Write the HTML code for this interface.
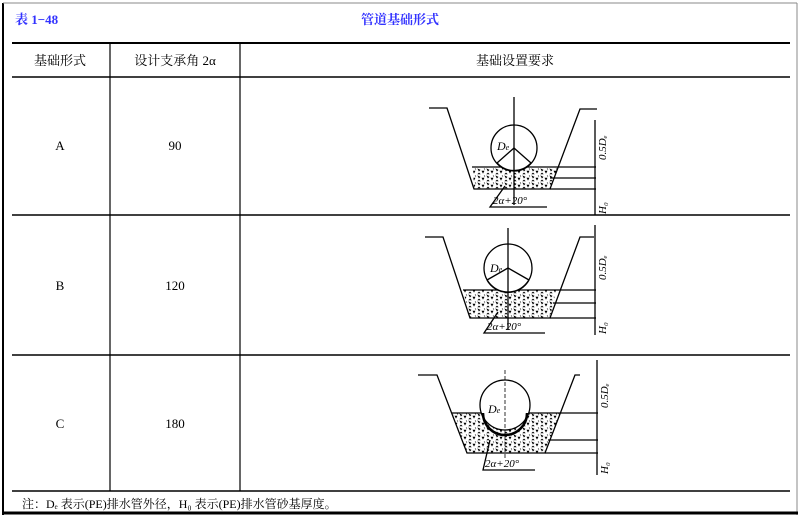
<!DOCTYPE html>
<html><head><meta charset="utf-8"><style>
body{margin:0;width:800px;height:520px;background:#fff;overflow:hidden;font-family:"Liberation Serif","Noto Serif CJK SC",serif;}
svg{position:absolute;left:0;top:0}
</style></head><body>
<svg width="800" height="520" viewBox="0 0 800 520">
<defs>
<pattern id="g" width="9" height="7" patternUnits="userSpaceOnUse">
<rect width="9" height="7" fill="#fff"/>
<path d="M1 1l2 1-1 1z M5 3l2 0-1 2z M2 5l1 1-2 0z M7 0.5l1 1" fill="#000" stroke="#000" stroke-width="0.6"/>
</pattern>
</defs>
<g stroke="#000" fill="none">
<line x1="3" y1="3" x2="3" y2="515" stroke-width="2"/>
<line x1="3" y1="3" x2="797" y2="3" stroke="#888" stroke-width="1"/>
<line x1="797" y1="3" x2="797" y2="515" stroke="#888" stroke-width="1"/>
<line x1="2" y1="513" x2="798" y2="513" stroke-width="3"/>
<line x1="12" y1="43" x2="790" y2="43" stroke-width="2"/>
<line x1="12" y1="77" x2="790" y2="77" stroke-width="1.5"/>
<line x1="12" y1="215" x2="790" y2="215" stroke-width="1.5"/>
<line x1="12" y1="355" x2="790" y2="355" stroke-width="1.5"/>
<line x1="12" y1="491" x2="790" y2="491" stroke-width="1.5"/>
<line x1="110" y1="43" x2="110" y2="491" stroke-width="1.2"/>
<line x1="240" y1="43" x2="240" y2="491" stroke-width="1.2"/>
</g>
<g font-size="13" fill="#33f" font-weight="bold">
<text x="15" y="24">表 1−48</text>
<text x="400" y="24" text-anchor="middle">管道基础形式</text>
</g>
<g font-size="13" fill="#000" text-anchor="middle">
<text x="60" y="65">基础形式</text>
<text x="175" y="65">设计支承角 2α</text>
<text x="515" y="65">基础设置要求</text>
<text x="60" y="150">A</text><text x="175" y="150">90</text>
<text x="60" y="290">B</text><text x="175" y="290">120</text>
<text x="60" y="428">C</text><text x="175" y="428">180</text>
</g>
<text x="22" y="508" font-size="12" fill="#000">注：Dₑ 表示(PE)排水管外径，H₀ 表示(PE)排水管砂基厚度。</text>

<!-- A -->
<g stroke="#000" stroke-width="1.3" fill="none">
<polygon points="473,167 558,167 550,189 474,189" fill="url(#g)" stroke="none"/>
<polyline points="429,108 447,108 474,189 550,189 580,109 597,109"/>
<line x1="472" y1="167" x2="596" y2="167"/>
<circle cx="514" cy="148" r="23" fill="#fff"/>
<path d="M497,163 A23,23 0 0 0 531,163" />
<line x1="514" y1="148" x2="497" y2="163"/><line x1="514" y1="148" x2="531" y2="163"/>
<line x1="514" y1="97" x2="514" y2="205"/>
<line x1="595" y1="120" x2="595" y2="215"/>
<line x1="550" y1="178" x2="596" y2="178"/><line x1="550" y1="189" x2="596" y2="189"/>
<polyline points="505,186 490,207 547,207"/>
</g>
<text x="497" y="150" font-size="12" font-style="italic">D<tspan font-size="8">e</tspan></text>
<text x="493" y="204" font-size="11" font-style="italic">2α+20°</text>
<text transform="translate(606,160) rotate(-90)" font-size="11" font-style="italic">0.5Dₑ</text>
<text transform="translate(606,214) rotate(-90)" font-size="11" font-style="italic">H₀</text>

<!-- B -->
<g stroke="#000" stroke-width="1.3" fill="none">
<polygon points="463,290 556,290 550,318 470,318" fill="url(#g)" stroke="none"/>
<polyline points="425,237 443,237 470,318 550,318 580,237 594,237"/>
<line x1="463" y1="290" x2="596" y2="290"/>
<circle cx="508" cy="268" r="24" fill="#fff"/>
<path d="M487,280 A24,24 0 0 0 529,280"/>
<line x1="508" y1="268" x2="487" y2="280"/><line x1="508" y1="268" x2="529" y2="280"/>
<line x1="508" y1="228" x2="508" y2="330"/>
<line x1="595" y1="225" x2="595" y2="335"/>
<line x1="553" y1="303" x2="596" y2="303"/><line x1="550" y1="318" x2="596" y2="318"/>
<polyline points="498,312 484,333 545,333"/>
</g>
<text x="490" y="272" font-size="12" font-style="italic">D<tspan font-size="8">e</tspan></text>
<text x="487" y="330" font-size="11" font-style="italic">2α+20°</text>
<text transform="translate(606,280) rotate(-90)" font-size="11" font-style="italic">0.5Dₑ</text>
<text transform="translate(606,334) rotate(-90)" font-size="11" font-style="italic">H₀</text>

<!-- C -->
<g stroke="#000" stroke-width="1.3" fill="none">
<polygon points="452,413 560,413 545,453 467,453" fill="url(#g)" stroke="none"/>
<polyline points="418,375 437,375 467,453 545,453 575,375 580,375"/>
<line x1="452" y1="413" x2="598" y2="413"/>
<circle cx="505" cy="405" r="25" fill="#fff"/>
<path d="M483,413 A22,22 0 0 0 527,413" stroke-width="2.5"/>
<line x1="505" y1="370" x2="505" y2="460" stroke-dasharray="4 2" stroke-width="0.8"/>
<line x1="597" y1="360" x2="597" y2="475"/>
<line x1="548" y1="440" x2="598" y2="440"/><line x1="545" y1="453" x2="598" y2="453"/>
<polyline points="490,440 483,470 535,470"/>
</g>
<text x="488" y="413" font-size="12" font-style="italic">D<tspan font-size="8">e</tspan></text>
<text x="485" y="467" font-size="11" font-style="italic">2α+20°</text>
<text transform="translate(608,408) rotate(-90)" font-size="11" font-style="italic">0.5Dₑ</text>
<text transform="translate(608,474) rotate(-90)" font-size="11" font-style="italic">H₀</text>
</svg>
</body></html>
